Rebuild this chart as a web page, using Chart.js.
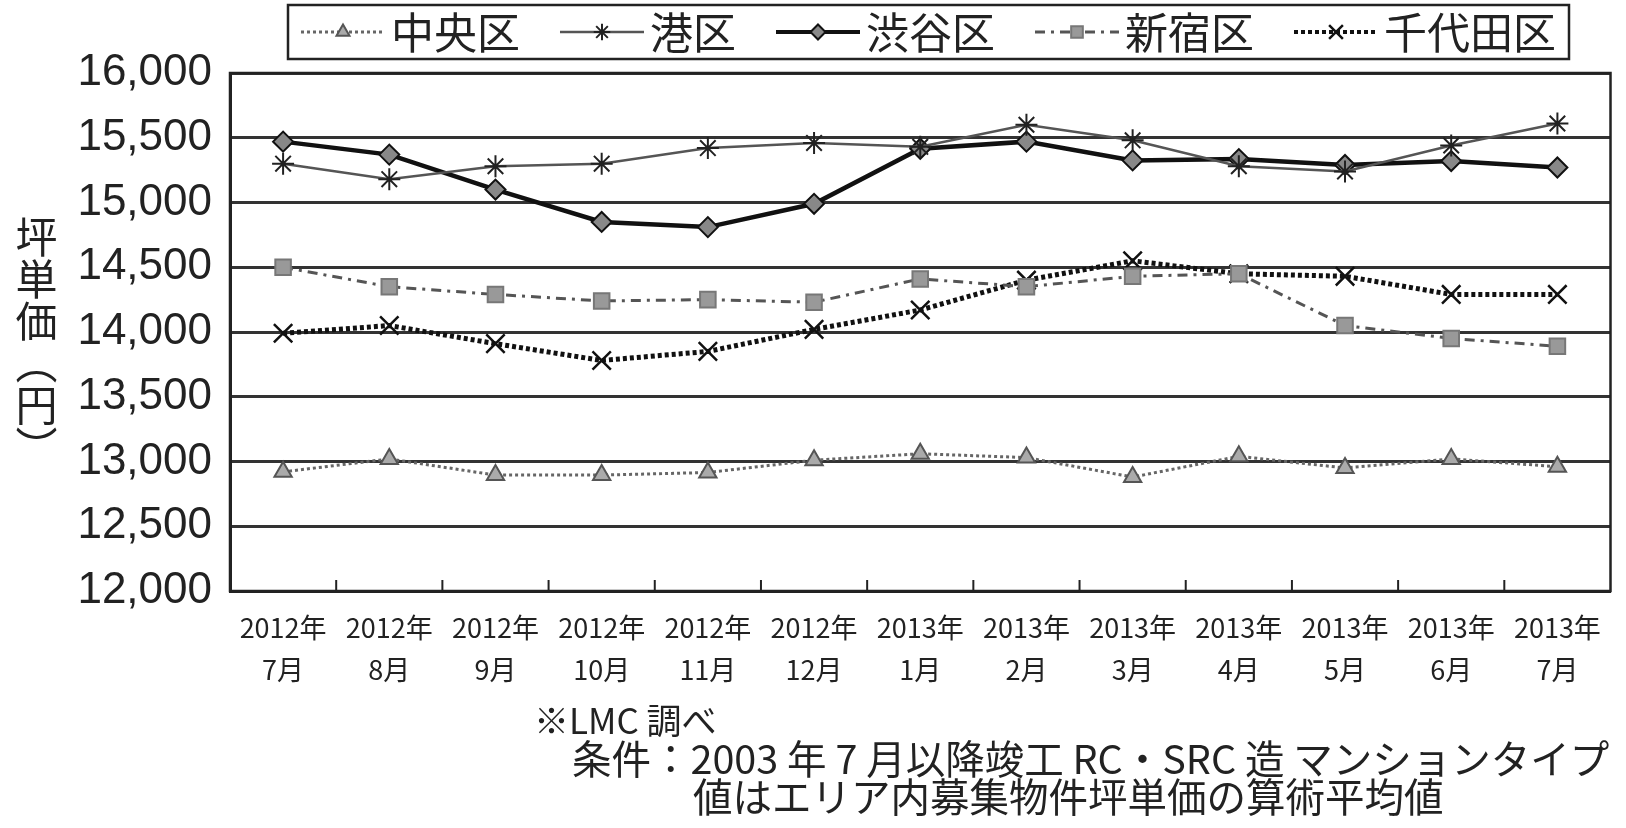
<!DOCTYPE html>
<html><head><meta charset="utf-8">
<script src="https://cdn.jsdelivr.net/npm/chart.js@4"></script>
<style>
html,body{margin:0;padding:0;background:#fff;}
#wrap{position:relative;width:1626px;height:828px;background:#fff;}
canvas{position:absolute;left:0;top:0;}
.ytitle{position:absolute;left:15px;top:216px;writing-mode:vertical-rl;font-size:42px;font-family:"Noto Sans CJK JP";color:#222;line-height:1;}
.note{position:absolute;font-family:"Noto Sans CJK JP";color:#222;white-space:nowrap;line-height:1;}
</style></head>
<body>
<div id="wrap">
<canvas id="c" width="1626" height="828"></canvas>
<div class="ytitle">坪単価（円）</div>
<div class="note" style="left:534px;top:701px;font-size:35px;">※LMC 調べ</div>
<div class="note" style="left:572px;top:737px;font-size:39.5px;">条件：2003 年 7 月以降竣工 RC・SRC 造 マンションタイプ</div>
<div class="note" style="left:693px;top:775px;font-size:39.5px;">値はエリア内募集物件坪単価の算術平均値</div>
</div>
<script>
const years = ['2012年','2012年','2012年','2012年','2012年','2012年','2013年','2013年','2013年','2013年','2013年','2013年','2013年'];
const months = ['7月','8月','9月','10月','11月','12月','1月','2月','3月','4月','5月','6月','7月'];
const chuo = [12920,13020,12895,12895,12915,13010,13060,13030,12880,13040,12950,13020,12960];
const minato = [15300,15180,15280,15300,15420,15460,15430,15600,15480,15280,15240,15440,15610];
const shibuya = [15470,15370,15100,14850,14810,14990,15415,15470,15325,15335,15290,15320,15270];
const shinjuku = [14500,14350,14290,14240,14250,14230,14410,14350,14430,14450,14050,13950,13890];
const chiyoda = [13990,14050,13910,13780,13850,14020,14170,14400,14550,14450,14430,14290,14290];
const seriesNames = ['中央区','港区','渋谷区','新宿区','千代田区'];
const yTicks = {min:12000, max:16000, step:500};

const categories = years.map((y,i)=>[y, months[i]]);

const frameAndTicks = {
  id:'frameAndTicks',
  beforeDatasetsDraw(chart){
    const {ctx, chartArea:a, scales:{x}} = chart;
    ctx.save();
    ctx.strokeStyle = '#222';
    ctx.lineWidth = 2.5;
    ctx.strokeRect(a.left, a.top, a.right - a.left, a.bottom - a.top);
    ctx.lineWidth = 2;
    for (let i = 1; i < categories.length; i++) {
      const px = (x.getPixelForValue(i-1) + x.getPixelForValue(i)) / 2;
      ctx.beginPath();
      ctx.moveTo(px, a.bottom);
      ctx.lineTo(px, a.bottom - 11);
      ctx.stroke();
    }
    ctx.restore();
  }
};

const boxLegend = {
  id:'boxLegend',
  afterDraw(chart){
    const ctx = chart.ctx;
    const ds = chart.data.datasets;
    ctx.save();
    ctx.font = '43px "Noto Sans CJK JP"';
    const sw = 84, g1 = 6, g2 = 40, padX = 13;
    const left = 288, top = 5, h = 54;
    let total = 0;
    ds.forEach((d,i)=>{ total += sw + g1 + ctx.measureText(d.label).width + (i < ds.length-1 ? g2 : 0); });
    ctx.strokeStyle = '#222';
    ctx.lineWidth = 2.5;
    ctx.strokeRect(left, top, total + 2*padX, h);
    let xx = left + padX;
    const cy = top + h/2;
    ds.forEach((d)=>{
      ctx.save();
      ctx.strokeStyle = d.borderColor;
      ctx.lineWidth = Math.min(d.borderWidth, 4);
      ctx.setLineDash(d.borderDash || []);
      ctx.beginPath(); ctx.moveTo(xx, cy); ctx.lineTo(xx+sw, cy); ctx.stroke();
      ctx.setLineDash([]);
      ctx.fillStyle = d.pointBackgroundColor;
      ctx.strokeStyle = d.pointBorderColor;
      ctx.lineWidth = d.pointBorderWidth;
      Chart.helpers.drawPoint(ctx, {pointStyle:d.pointStyle, radius:d.pointRadius*0.75, rotation:0, borderWidth:d.pointBorderWidth}, xx+sw/2, cy);
      ctx.restore();
      xx += sw + g1;
      ctx.fillStyle = '#222';
      ctx.textBaseline = 'middle';
      ctx.fillText(d.label, xx, cy + 1);
      xx += ctx.measureText(d.label).width + g2;
    });
    ctx.restore();
  }
};

new Chart(document.getElementById('c'), {
  type:'line',
  data:{
    labels: categories,
    datasets:[
      {label:seriesNames[0], data:chuo, borderColor:'#666', borderWidth:3, borderDash:[3,3], pointStyle:'triangle', pointRadius:10, pointBackgroundColor:'#aaa', pointBorderColor:'#555', pointBorderWidth:2},
      {label:seriesNames[1], data:minato, borderColor:'#555', borderWidth:2.5, pointStyle:'star', pointRadius:11, pointBackgroundColor:'#222', pointBorderColor:'#222', pointBorderWidth:2},
      {label:seriesNames[2], data:shibuya, borderColor:'#111', borderWidth:4.5, pointStyle:'rectRot', pointRadius:10, pointBackgroundColor:'#888', pointBorderColor:'#111', pointBorderWidth:2},
      {label:seriesNames[3], data:shinjuku, borderColor:'#555', borderWidth:3, borderDash:[10,6,3,6], pointStyle:'rect', pointRadius:11, pointBackgroundColor:'#999', pointBorderColor:'#777', pointBorderWidth:2},
      {label:seriesNames[4], data:chiyoda, borderColor:'#111', borderWidth:5, borderDash:[4,3], pointStyle:'crossRot', pointRadius:13, pointBackgroundColor:'#111', pointBorderColor:'#111', pointBorderWidth:2.5}
    ]
  },
  options:{
    responsive:false,
    animation:false,
    devicePixelRatio:1,
    layout:{padding:{top:73,right:2,left:0,bottom:0}},
    plugins:{legend:{display:false}, tooltip:{enabled:false}},
    elements:{line:{tension:0}},
    scales:{
      x:{
        offset:true,
        grid:{display:false},
        border:{display:true,color:'#222',width:3},
        ticks:{font:{size:27,family:'"Noto Sans CJK JP"',lineHeight:1.55},color:'#222',padding:8,maxRotation:0,autoSkip:false},
        afterFit(s){ s.height = 237; }
      },
      y:{
        min:yTicks.min, max:yTicks.max,
        grid:{color:'#333', lineWidth:3, drawTicks:false},
        border:{display:true,color:'#222',width:3},
        ticks:{stepSize:yTicks.step, font:{size:44,family:'"Liberation Sans", Arial'}, color:'#222', padding:18,
          callback:v=>v.toLocaleString('en-US')},
        afterFit(s){ s.width = 230; }
      }
    }
  },
  plugins:[frameAndTicks, boxLegend]
});
</script>
</body></html>
